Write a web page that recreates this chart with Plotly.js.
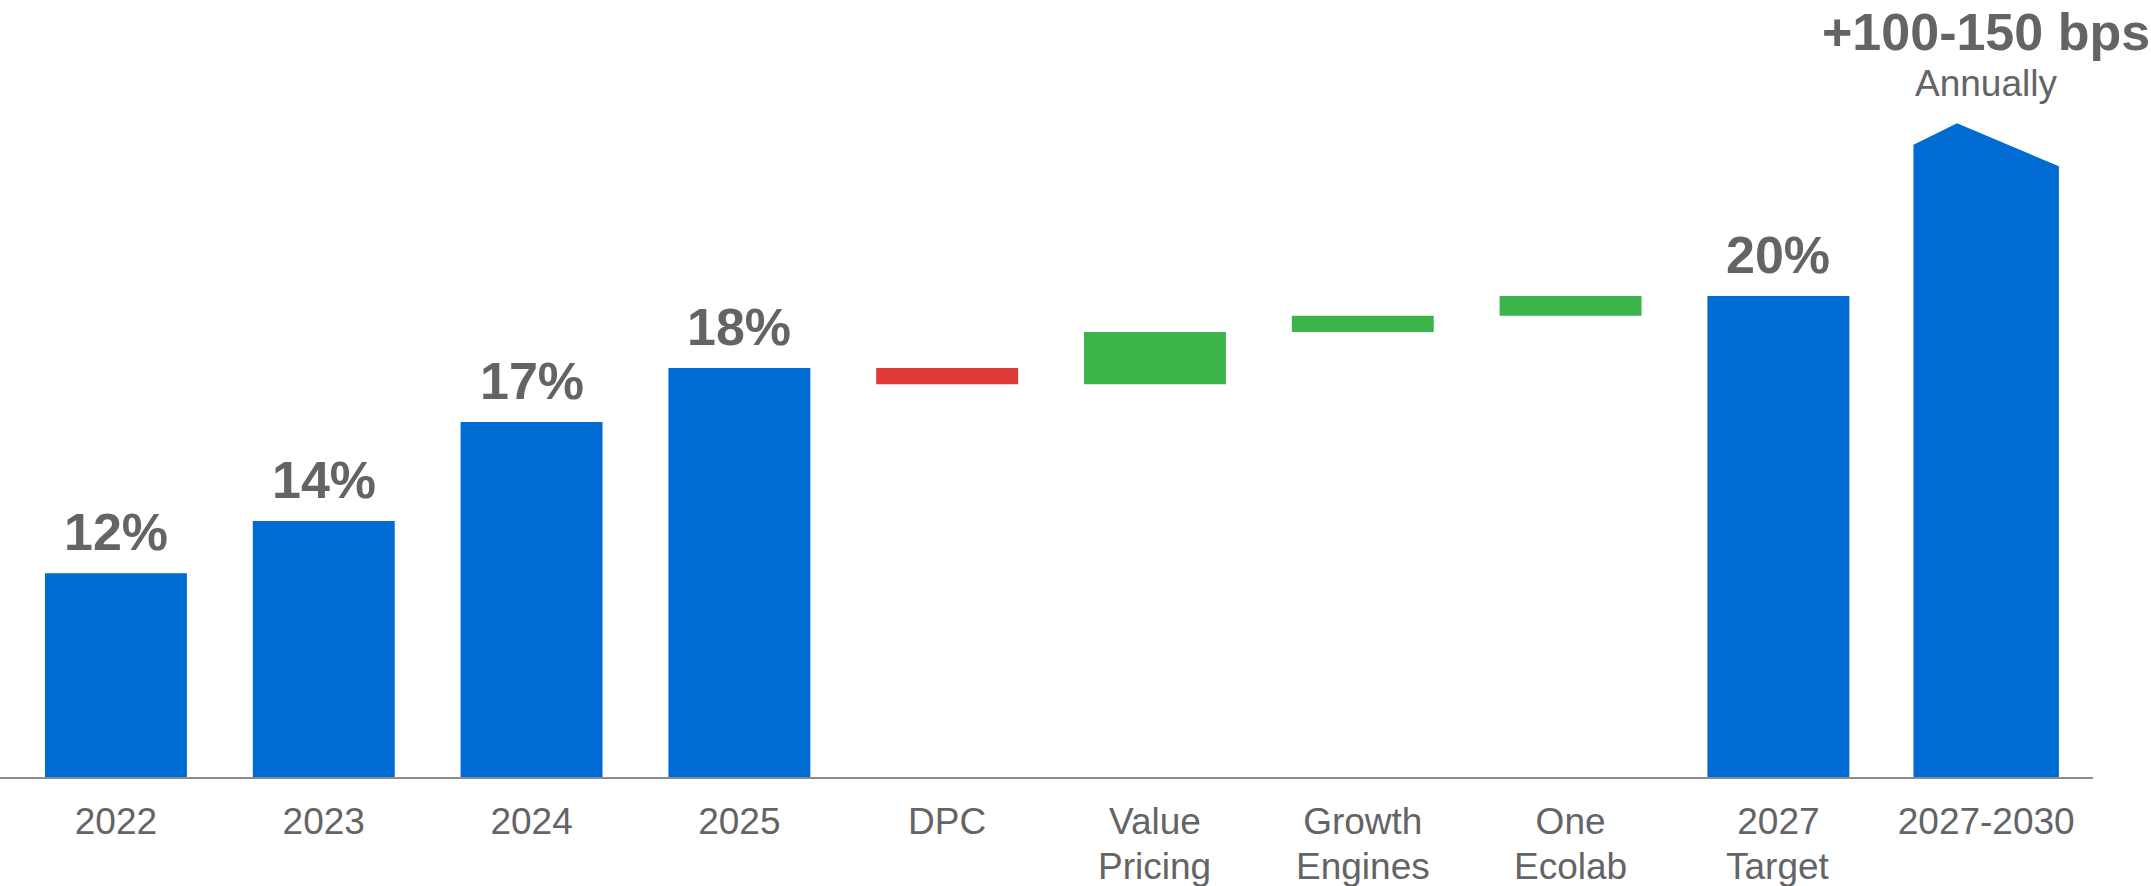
<!DOCTYPE html>
<html>
<head>
<meta charset="utf-8">
<script src="https://cdn.plot.ly/plotly-3.0.1.min.js"></script>
<style>
html,body{margin:0;padding:0;background:#fff;}
#chart{width:2151px;height:886px;}
</style>
</head>
<body>
<div id="chart"></div>
<script>
// ---- data ----
const categories = ['2022','2023','2024','2025','DPC','Value Pricing','Growth Engines','One Ecolab','2027 Target','2027-2030'];
const tickLine1 = ['2022','2023','2024','2025','DPC','Value','Growth','One','2027','2027-2030'];
const tickLine2 = ['','','','','','Pricing','Engines','Ecolab','Target',''];
const yearValues = [12.3, 13.75, 16.5, 18.0];
const yearLabels = ['12%','14%','17%','18%'];
const bridgeDeltas = [-0.45, 1.45, 0.45, 0.55];   // DPC, Value Pricing, Growth Engines, One Ecolab
const targetValue = 20.0;
const targetLabel = '20%';
const outlookEdges = [24.2, 23.6];                // left / right top of the 2027-2030 arrow bar
const outlookPeak = 24.8;
const outlookTitle = '+100-150 bps';
const outlookSub = 'Annually';

// ---- style ----
const BLUE = '#006BD3', RED = '#E03A36', GREEN = '#3BB54A', GREY = '#636466';
const FONT = 'Liberation Sans, Arial, sans-serif';
const yMin = 6.64, yMax = 28.22;
const barW = 0.683;
const arrowW = 0.70, peakOffset = -0.14;

const pos = categories.map((c,i)=>i);

// blue level bars
const levelX = [0,1,2,3,8];
const levelV = yearValues.concat([targetValue]);
const levelLbl = yearLabels.concat([targetLabel]);

// bridge bars
let running = yearValues[yearValues.length-1];
const bridgeX = [], bridgeBase = [], bridgeColors = [];
bridgeDeltas.forEach((d,i)=>{
  bridgeX.push(4+i);
  bridgeBase.push(running);
  bridgeColors.push(d < 0 ? RED : GREEN);
  running += d;
});

const traces = [
  {type:'bar', x:levelX, y:levelV.map(v=>v-yMin), base:levelX.map(()=>yMin),
   width:barW, marker:{color:BLUE, line:{width:0}}, hoverinfo:'skip'},
  {type:'bar', x:bridgeX, y:bridgeDeltas, base:bridgeBase,
   width:barW, marker:{color:bridgeColors, line:{width:0}}, hoverinfo:'skip'},
  {type:'scatter', mode:'lines', fill:'toself', fillcolor:BLUE, line:{width:0, color:BLUE},
   x:[9-arrowW/2, 9-arrowW/2, 9+peakOffset, 9+arrowW/2, 9+arrowW/2, 9-arrowW/2],
   y:[yMin, outlookEdges[0], outlookPeak, outlookEdges[1], yMin, yMin], hoverinfo:'skip'}
];

const annotations = levelX.map((x,i)=>({
  x:x, y:levelV[i], xref:'x', yref:'y', text:levelLbl[i], showarrow:false,
  yanchor:'middle', yshift:41, font:{family:FONT, size:52, color:GREY, weight:'bold'}
}));
annotations.push({x:9, y:0.9588, xref:'x', yref:'paper', text:'<b>'+outlookTitle+'</b>', showarrow:false,
  yanchor:'middle', font:{family:FONT, size:52, color:GREY}});
annotations.push({x:9, y:0.8919, xref:'x', yref:'paper', text:outlookSub, showarrow:false,
  yanchor:'middle', font:{family:FONT, size:37, color:GREY}});
// second line of the category labels
tickLine2.forEach((t,i)=>{
  if(!t) return;
  annotations.push({x:i, y:0, xref:'x', yref:'paper', text:t, showarrow:false,
    yanchor:'middle', yshift:-89, font:{family:FONT, size:37, color:GREY}});
});

const layout = {
  width:2151, height:886,
  margin:{l:0, r:58, t:0, b:109},
  paper_bgcolor:'#fff', plot_bgcolor:'#fff',
  showlegend:false,
  barmode:'overlay',
  xaxis:{range:[-0.558, 9.514], tickvals:pos, ticktext:tickLine1, showgrid:false, zeroline:false,
         showline:true, linecolor:'#8c8c8c', linewidth:2, ticks:'', ticklabelstandoff:11,
         tickfont:{family:FONT, size:37, color:GREY}, fixedrange:true},
  yaxis:{range:[yMin, yMax], visible:false, showgrid:false, zeroline:false, fixedrange:true},
  annotations:annotations
};

Plotly.newPlot('chart', traces, layout, {displayModeBar:false, staticPlot:true});
</script>
</body>
</html>
